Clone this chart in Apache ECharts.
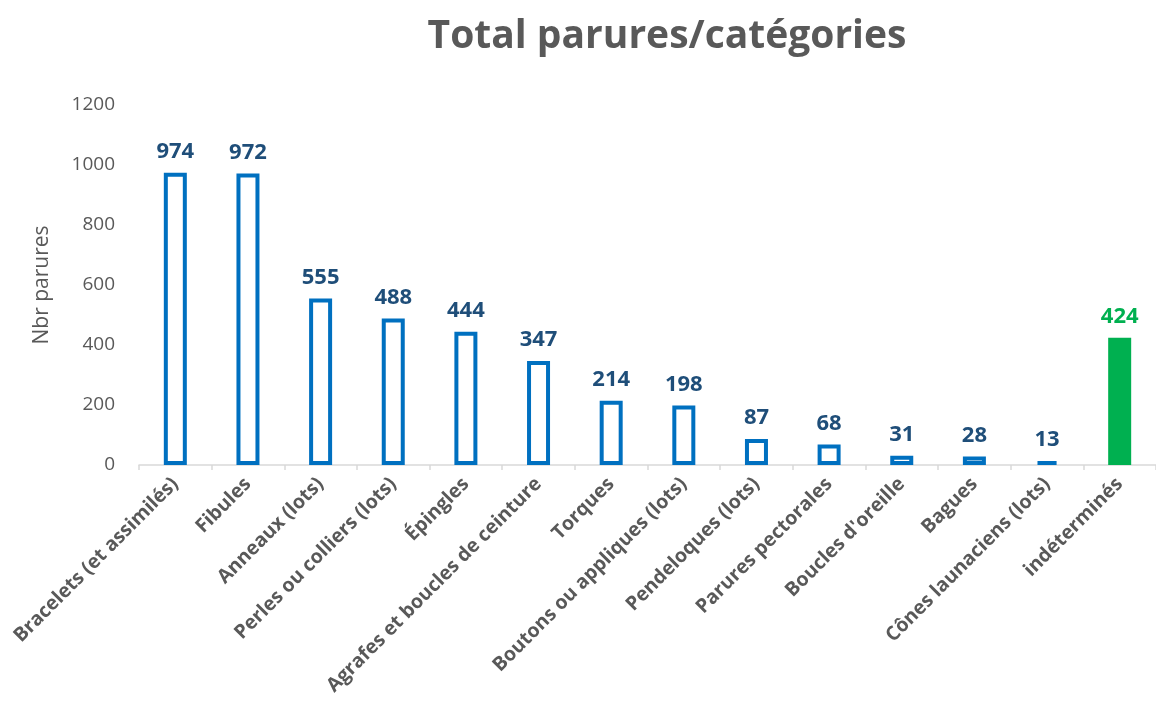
<!DOCTYPE html>
<html><head><meta charset="utf-8">
<script src="https://cdn.jsdelivr.net/npm/echarts@6/dist/echarts.min.js"></script>
<style>html,body{margin:0;padding:0;background:#fff}#c{width:1156px;height:707px}</style>
</head><body><div id="c"></div>
<script>
const categories = ["Bracelets (et assimilés)","Fibules","Anneaux (lots)","Perles ou colliers (lots)","Épingles","Agrafes et boucles de ceinture","Torques","Boutons ou appliques (lots)","Pendeloques (lots)","Parures pectorales","Boucles d'oreille","Bagues","Cônes launaciens (lots)","indéterminés"];
const values = [974,972,555,488,444,347,214,198,87,68,31,28,13,424];
const yTicks = [0,200,400,600,800,1000,1200];

const font = "'Open Sans', 'Noto Sans', sans-serif";
const data = values.map((v,i)=>{
  const last = i === values.length-1;
  return {
    value: v,
    itemStyle: last ? {color:'#00B050', borderColor:'#00B050', borderWidth:0}
                    : {color:'#FFFFFF', borderColor:'#0070C0', borderWidth:4},
    label: {color: last ? '#00B050' : '#1F4E79'}
  };
});
const chart = echarts.init(document.getElementById('c'));
chart.setOption({
  animation:false,
  title:{text:'Total parures/catégories', left:662, textAlign:'center', top:12,
    textStyle:{fontFamily:font, fontSize:39, fontWeight:'bold', color:'#595959'}},
  grid:{left:139, top:105, bottom:242, width:1029},
  xAxis:{type:'category', data:categories,
    axisLine:{lineStyle:{color:'#D9D9D9', width:1.5}},
    axisTick:{show:true, length:5, lineStyle:{color:'#D9D9D9', width:1.5}},
    axisLabel:{rotate:45, interval:0, margin:16, fontFamily:font, fontSize:19.5, fontWeight:'bold', color:'#595959'}},
  yAxis:{type:'value', min:0, max:1200, interval:200,
    name:'Nbr parures', nameLocation:'middle', nameGap:86, nameRotate:90,
    nameTextStyle:{fontFamily:font, fontSize:21, color:'#595959'},
    axisLine:{show:false}, axisTick:{show:false}, splitLine:{show:false},
    axisLabel:{margin:24, fontFamily:font, fontSize:19, color:'#595959',
      formatter:v=> yTicks.includes(v) ? String(v) : ''}},
  series:[{type:'bar', data:data, barWidth:23,
    label:{show:true, position:'top', distance:10, fontFamily:font, fontSize:22, fontWeight:'bold'}}]
});
</script></body></html>
